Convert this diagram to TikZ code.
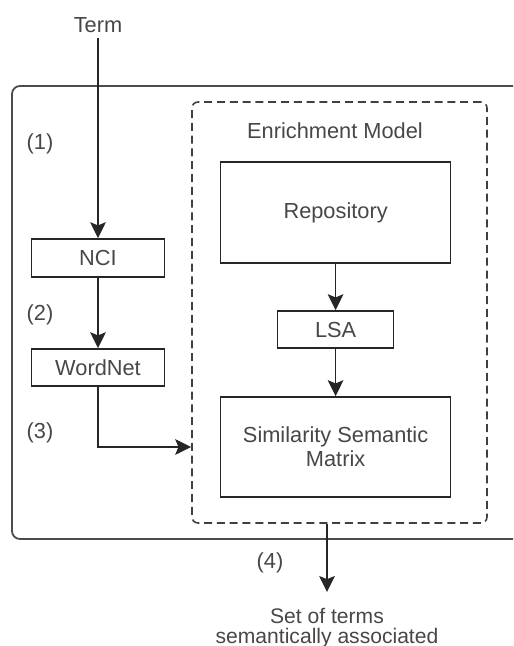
\documentclass[tikz,border=0pt]{standalone}
\usepackage{fontspec}
\setmainfont{Liberation Sans}
\usetikzlibrary{arrows.meta,positioning}

\begin{document}
\begin{tikzpicture}[
		every node/.style={text=black!72, font=\fontsize{15.5}{17}\selectfont},
		box/.style={draw=black!85, line width=1.1pt, minimum width=3.325cm, minimum height=0.95cm, inner sep=0pt},
		bigbox/.style={box, minimum width=5.75cm, minimum height=2.5cm, align=center},
		flow/.style={-{Stealth[length=4mm,width=3.9mm,inset=0.8mm]}, draw=black!85, line width=1.1pt}
	]
	\useasboundingbox (0,0) rectangle (12.825,-16.15);
	%outer frame
	\begin{scope}
		\clip (0,0) rectangle (12.825,-16.15);
		\draw[black!70, line width=1.3pt, rounded corners=0.2cm] (0.3,-2.15) rectangle (13.5,-13.475);
	\end{scope}
	%enrichment model
	\node[draw=black!75, dash pattern=on 0.2cm off 0.12cm, line width=1.1pt, rounded corners=0.15cm, minimum width=7.375cm, minimum height=10.525cm] (model) at (8.4875,-7.8125) {};
	\node (title) at (8.375,-3.275) {Enrichment Model};
	\node[bigbox, minimum height=2.525cm] (repo) at (8.39,-5.3125) {Repository};
	\node[box, minimum width=2.9cm, minimum height=0.925cm] (lsa) at (8.39,-8.2375) {LSA};
	\node[bigbox] (ssm) at (8.39,-11.175) {Similarity Semantic\\Matrix};
	%left column
	\node (term) at (2.45,-0.625) {Term};
	\node[box] (nci) at (2.45,-6.45) {NCI};
	\node[box, minimum height=0.93cm] (wordnet) at (2.45,-9.19) {WordNet};
	%step labels
	\node (s1) at (1.0,-3.6) {(1)};
	\node (s2) at (1.0,-7.875) {(2)};
	\node (s3) at (1.0,-10.825) {(3)};
	\node (s4) at (6.75,-14.075) {(4)};
	%result
	\coordinate (out) at (8.175,-14.8);
	\node[align=center, font=\fontsize{15}{14.2}\selectfont] (result) at (8.175,-15.7) {Set of terms\\semantically associated};
	%arrows
	\draw[flow] (term) -- (nci);
	\draw[flow] (nci) -- (wordnet);
	\draw[flow] (wordnet) |- (model.west |- ssm);
	\draw[flow] (repo) -- (lsa);
	\draw[flow] (lsa) -- (ssm);
	\draw[flow] (out |- model.south) -- (out);
\end{tikzpicture}
\end{document}
